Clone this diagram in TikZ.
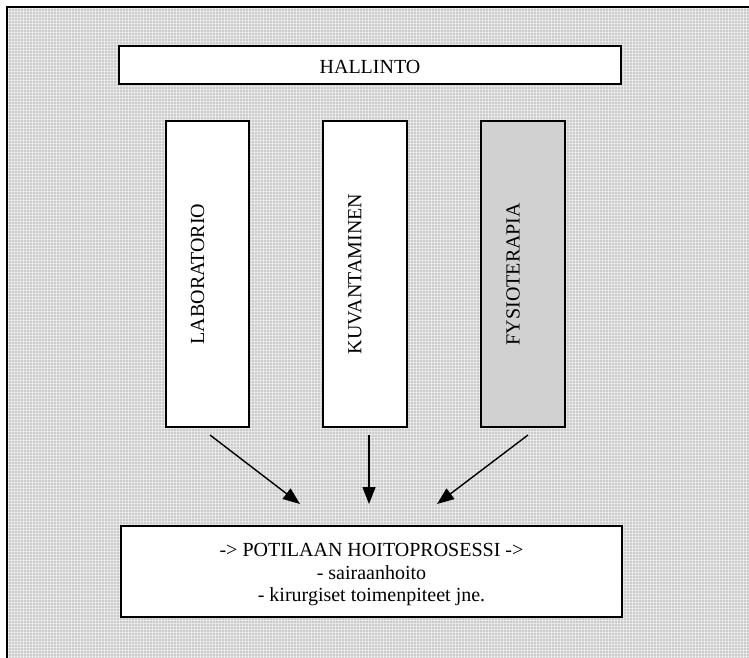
\documentclass[tikz,border=0pt]{standalone}
\usepackage{fontspec}
\setmainfont{Liberation Serif}
\usetikzlibrary{arrows.meta}
\definecolor{panelgray}{RGB}{204,204,204}
\definecolor{fysgray}{RGB}{209,209,209}
\begin{document}
\begin{tikzpicture}[x=1pt,y=-1pt,
  unit/.style={draw=black, line width=1.4pt, fill=white, inner sep=0pt,
    minimum width=84pt, minimum height=306pt},
  txt/.style={font=\fontsize{20}{22.5}\selectfont, inner sep=0pt},
  flow/.style={line width=1.4pt, -{Triangle[length=17pt,width=13pt]}}]
\useasboundingbox (0,0) rectangle (749,658);

% textured grey panel
\fill[panelgray] (7,7) rectangle (749,658);
\begin{scope}
  \clip (7,7) rectangle (749,658);
  \foreach \k in {0,...,248}
    \draw[white, opacity=.45, line width=1pt] ({8.5+3*\k},7) -- ({8.5+3*\k},658);
  \foreach \k in {0,...,217}
    \draw[white, opacity=.45, line width=1pt] (7,{8.5+3*\k}) -- (749,{8.5+3*\k});
\end{scope}
\draw[line width=1.5pt] (7,658) -- (7,7) -- (749,7);

% administration bar
\node[unit, minimum width=502pt, minimum height=38pt] (hallinto) at (370,65) {};
\node[txt] (hallintoText) at (370,67) {HALLINTO};

% service units
\node[unit, minimum width=83pt] (lab) at (207.5,274) {};
\node[txt, rotate=90] (labText) at (197.5,274) {LABORATORIO};
\node[unit] (kuv) at (365,274) {};
\node[txt, rotate=90] (kuvText) at (355,274) {KUVANTAMINEN};
\node[unit, fill=fysgray] (fys) at (523,274) {};
\node[txt, rotate=90] (fysText) at (513,274) {FYSIOTERAPIA};

% care process
\node[unit, minimum width=501pt, minimum height=91pt] (potilas) at (371.5,571.5) {};
\node[txt, align=center] (potilasText) at (371.5,574.6)
  {-> POTILAAN HOITOPROSESSI ->\\- sairaanhoito\\- kirurgiset toimenpiteet jne.};

% flows into the care process
\coordinate (s1) at (210,435);
\coordinate (s2) at (369,435);
\coordinate (s3) at (528,435);
\coordinate (e1) at (300,504);
\coordinate (e2) at (369,504);
\coordinate (e3) at (437,504);
\draw[flow] (s1) -- (e1);
\draw[flow] (s2) -- (e2);
\draw[flow] (s3) -- (e3);
\end{tikzpicture}
\end{document}
